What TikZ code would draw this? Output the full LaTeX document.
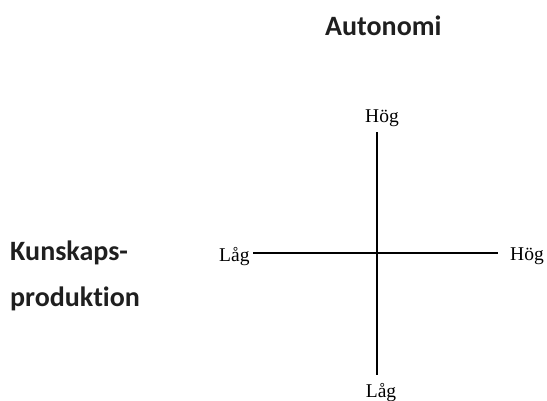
\documentclass[tikz,border=0pt]{standalone}
\usepackage{fontspec}
\setmainfont{Liberation Serif}
\newfontfamily\headfont[Ligatures=NoCommon]{Carlito}
\begin{document}
\begin{tikzpicture}[x=1pt,y=-1pt,
  heading/.style={font=\headfont\bfseries\fontsize{28}{32}\selectfont, inner sep=0pt, text=black!88},
  level/.style={font=\fontsize{19.5}{22}\selectfont, inner sep=0pt},
  axis/.style={line width=1.7pt, black}]
  \useasboundingbox (0,0) rectangle (547,400);

  % headings
  \node[heading, anchor=base west] (auto) at (325,35) {Autonomi};
  \node[heading, anchor=base west] (kun1) at (10,260) {Kunskaps-};
  \node[heading, anchor=base west] (kun2) at (10,306) {produktion};

  % axis end labels
  \node[level, anchor=base] (vtop) at (382,122) {Hög};
  \node[level, anchor=base] (vbot) at (381,397) {Låg};
  \node[level, anchor=base west] (hleft) at (219,261) {Låg};
  \node[level, anchor=base west] (hright) at (510,260) {Hög};

  % axis end points
  \coordinate (vt) at (377,132);
  \coordinate (vb) at (377,375);
  \coordinate (hl) at (253,253);
  \coordinate (hr) at (498,253);

  \draw[axis] (vt) -- (vb);
  \draw[axis] (hl) -- (hr);
\end{tikzpicture}
\end{document}
